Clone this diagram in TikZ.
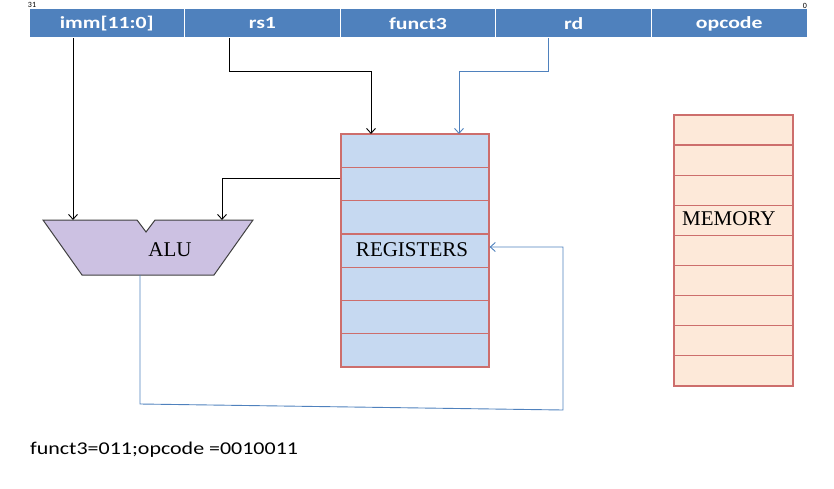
\documentclass[tikz,border=0pt]{standalone}
\usepackage{fontspec}
\setmainfont{Liberation Serif}
\setsansfont{Carlito}
\usepackage{xcolor}
\usepackage{tikz}
\usetikzlibrary{arrows.meta}

\definecolor{hdrblue}{RGB}{79,129,189}
\definecolor{regfill}{RGB}{198,217,241}
\definecolor{memfill}{RGB}{253,233,217}
\definecolor{cellred}{RGB}{205,110,108}
\definecolor{alufill}{RGB}{204,193,226}

\tikzset{
  field/.style={rectangle, draw=white, line width=1pt, fill=hdrblue, text=white,
    font=\sffamily\bfseries\fontsize{17}{17}\selectfont\addfontfeature{FakeStretch=1.28},
    minimum width=155.6pt, minimum height=29pt, inner sep=0pt},
  cellbox/.style={rectangle, draw=cellred, line width=1.3pt, inner sep=0pt},
  cellline/.style={cellred, line width=1.3pt},
  blk/.style={font=\fontsize{21}{21}\selectfont, inner sep=0pt},
  wire/.style={-{Straight Barb[length=5pt, width=9pt]}, black, line width=0.9pt},
  bluewire/.style={-{Straight Barb[length=5pt, width=9pt]}, hdrblue, line width=0.9pt}
}

\begin{document}
\begin{tikzpicture}[x=1pt, y=-1pt]
        \useasboundingbox (0,0) rectangle (834,489);
        % instruction fields
        \node (imm) at (106.8, 23.5) [field] {imm[11:0]};
        \node (rsone) at (262.4, 23.5) [field] {rs1};
        \node (funct) at (418.0, 23.5) [field] {funct3};
        \node (rd) at (573.6, 23.5) [field] {rd};
        \node (opcode) at (729.2, 23.5) [field] {opcode};
        \node (msb) at (32, 4.5) [font=\sffamily\fontsize{8}{8}\selectfont, inner sep=0pt] {31};
        \node (lsb) at (805, 5.5) [font=\sffamily\fontsize{8}{8}\selectfont, inner sep=0pt] {0};

        % register file
        \node (regs) at (415, 250.5) [cellbox, fill=regfill, minimum width=148pt, minimum height=233pt] {};
        \foreach \i in {1,...,6}
            \draw [cellline] (341, 134+33.3*\i) -- (489, 134+33.3*\i);
        \node (reglabel) at (412, 250) [blk] {REGISTERS};

        % memory
        \node (mem) at (733.5, 250.5) [cellbox, fill=memfill, minimum width=119pt, minimum height=271pt] {};
        \foreach \i in {1,...,8}
            \draw [cellline] (674, 115+30.1*\i) -- (793, 115+30.1*\i);
        \node (memlabel) at (682, 219) [blk, anchor=west] {MEMORY};

        % alu
        \draw [fill=alufill, draw=black!75, line width=1pt]
            (43,220) -- (137,220) -- (146,232) -- (155,220) -- (253,220)
            -- (214,275) -- (82,275) -- cycle;
        \node (alu) at (170, 250) [blk] {ALU};
        \coordinate (aluinA) at (73, 220);
        \coordinate (aluinB) at (222, 220);
        \coordinate (aluout) at (140, 275);
        \coordinate (regA) at (371, 134);
        \coordinate (regB) at (459, 134);

        % wires
        \draw [wire] (imm.south -| aluinA) -- (aluinA);
        \draw [wire] ([xshift=-33.4pt]rsone.south) -- ++(0,33) -| (regA);
        \draw [bluewire] ([xshift=-25.6pt]rd.south) -- ++(0,33) -| (regB);
        \draw [wire] ([yshift=-45pt]regs.north west) -| (aluinB);
        \draw [bluewire] (aluout) -- (140,404) -- (563,410) -- (563,247) -- ([yshift=3.5pt]regs.east);

        \node (note) at (30, 450) [anchor=west, font=\sffamily\fontsize{18}{18}\selectfont\addfontfeature{FakeStretch=1.22}, inner sep=0pt] {funct3=011;opcode =0010011};
    \end{tikzpicture}
\end{document}
